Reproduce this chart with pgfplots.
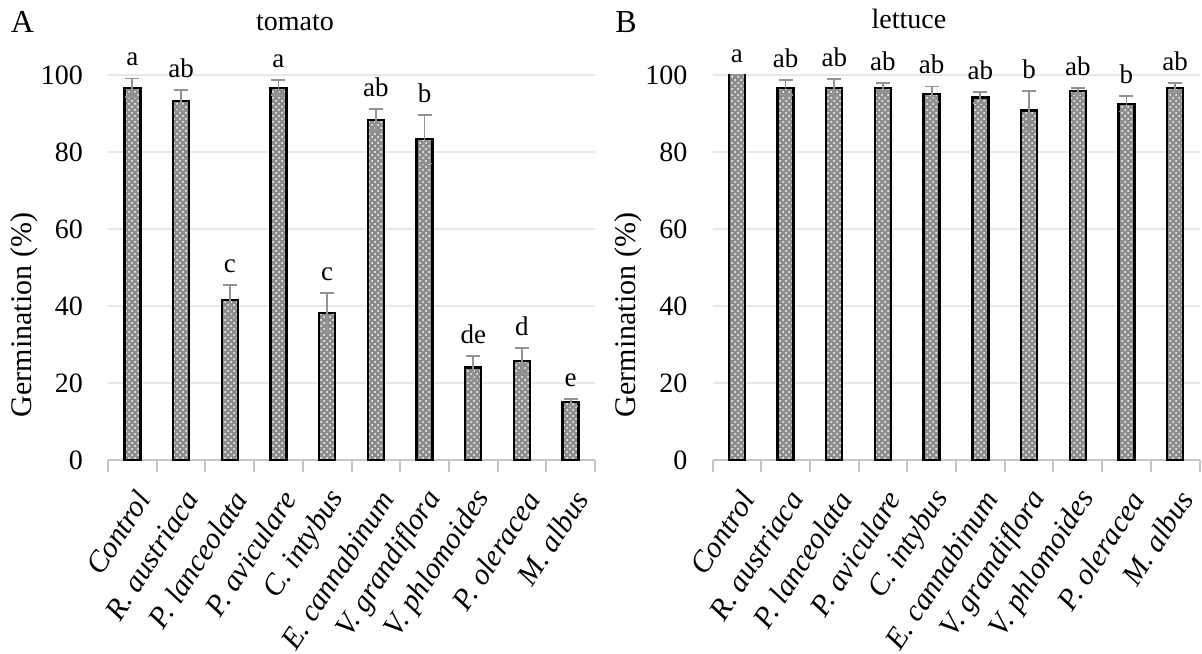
\documentclass[border=0pt]{standalone}
\usepackage{fontspec}
\setmainfont{Liberation Serif}
\usepackage{pgfplots}
\usepackage{pgfplotstable}
\pgfplotsset{compat=1.18}
\usetikzlibrary{patterns}

% x = category, y = mean germination, e = error, t = top of error bar, lab = letter
\pgfplotstableread{
x y e t lab
0 96.7 2.4 99.1 a
1 93.3 2.7 96.0 ab
2 41.5 4.0 45.5 c
3 96.7 1.9 98.6 a
4 38.2 5.1 43.3 c
5 88.3 2.9 91.2 ab
6 83.3 6.3 89.6 b
7 24.0 3.1 27.1 de
8 25.7 3.3 29.0 d
9 15.0 0.9 15.9 e
}\tomato

\pgfplotstableread{
x y e t lab
0 100.0 0.0 100.0 a
1 96.7 1.9 98.6 ab
2 96.7 2.3 99.0 ab
3 96.7 1.2 97.9 ab
4 95.0 2.0 97.0 ab
5 94.2 1.4 95.6 ab
6 90.8 5.0 95.8 b
7 95.8 0.8 96.6 ab
8 92.5 2.0 94.5 b
9 96.7 1.2 97.9 ab
}\lettuce

\newcommand{\fs}[1]{\fontsize{#1}{#1}\selectfont}

\pgfplotsset{
  germ/.style={
    scale only axis, width=243.5pt, height=192.5pt,
    anchor=south west, clip=false,
    xmin=-0.5, xmax=9.5, ymin=0, ymax=100,
    axis x line*=bottom, axis y line*=left,
    y axis line style={draw=none},
    x axis line style={draw=gray!45, line width=1pt, -},
    ytick={0,20,...,100},
    ymajorgrids, grid style={gray!18, line width=1pt},
    major tick length=0pt, tick align=outside,
    tick style={draw=gray!45, line width=1pt},
    xtick={0,...,9},
    xticklabels={Control, R. austriaca, P. lanceolata, P. aviculare, C. intybus,
      E. cannabinum, V. grandiflora, V. phlomoides, P. oleracea, M. albus},
    xticklabel style={font=\fs{15}\itshape, inner sep=1pt, xshift=6pt, yshift=-16pt,
      rotate=57, anchor=east},
    yticklabel style={font=\fs{14}, xshift=-9pt},
    /pgf/number format/assume math mode=true,
    extra x ticks={-0.5,0.5,...,9.5}, extra x tick labels={},
    extra x tick style={grid=none, major tick length=6pt},
  },
  bars/.style={ybar, bar width=8pt, draw=black, line width=1.2pt, fill=black!45,
    postaction={pattern=crosshatch dots, pattern color=white},
    error bars/.cd, y dir=both, y explicit,
    error bar style={gray!85, line width=0.9pt},
    error mark options={rotate=90, mark size=3.5pt, gray!85, line width=0.9pt}},
  letters/.style={draw=none, mark=none, nodes near coords, point meta=explicit symbolic,
    nodes near coords style={anchor=south, font=\fs{13.5}, inner sep=3pt, yshift=3pt}},
}

\begin{document}
\begin{tikzpicture}
\useasboundingbox (0,0) rectangle (601pt,326.5pt);

\begin{axis}[germ, at={(54pt,96.5pt)}]
  \addplot[bars] table[x=x, y=y, y error=e] {\tomato};
  \addplot[letters] table[x=x, y=t, meta=lab] {\tomato};
\end{axis}

\begin{axis}[germ, at={(356.25pt,96.5pt)}]
  \addplot[bars] table[x=x, y=y, y error=e] {\lettuce};
  \addplot[letters] table[x=x, y=t, meta=lab] {\lettuce};
\end{axis}

\node[anchor=base, font=\fs{16}] at (11.25pt,310pt) {A};
\node[anchor=base, font=\fs{16}] at (313pt,310pt) {B};
\node[anchor=base, font=\fs{14}] at (147.5pt,311pt) {tomato};
\node[anchor=base, font=\fs{14}] at (454.5pt,312pt) {lettuce};
\node[rotate=90, font=\fs{15}] at (12pt,169pt) {Germination (\%)};
\node[rotate=90, font=\fs{15}] at (314.25pt,169pt) {Germination (\%)};
\end{tikzpicture}
\end{document}
